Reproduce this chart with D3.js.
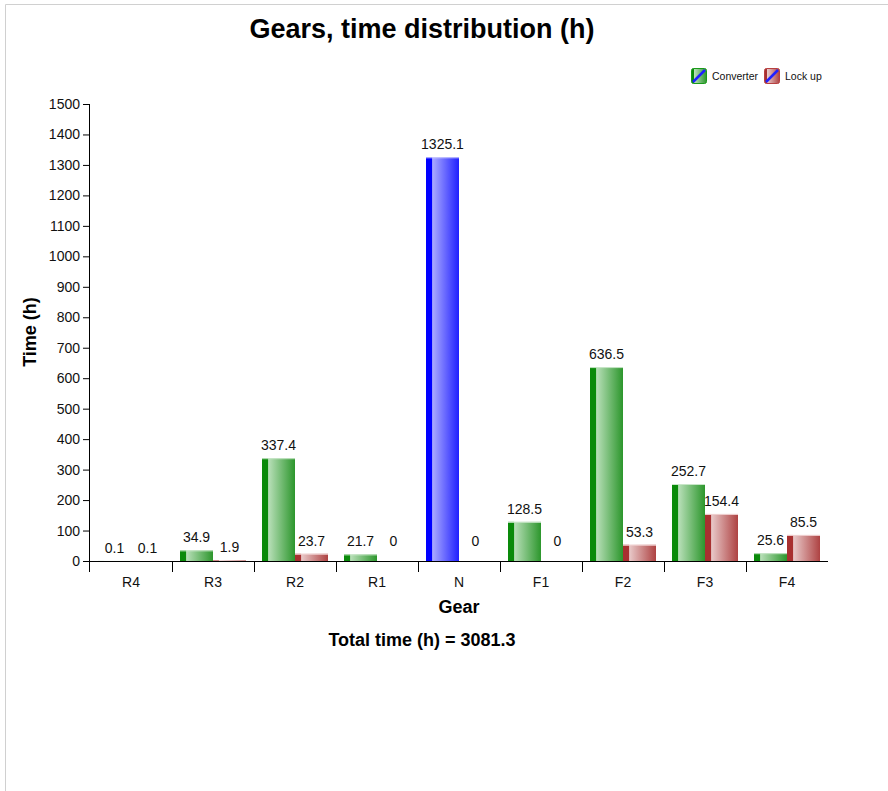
<!DOCTYPE html>
<html><head><meta charset="utf-8">
<script src="https://cdn.jsdelivr.net/npm/d3@7"></script>
<style>
html,body{margin:0;padding:0;background:#fff;}
svg{display:block;font-family:Arial,"Liberation Sans",Helvetica,sans-serif;}
</style></head>
<body>
<svg id="c" width="888" height="791"></svg>
<script>
const title = "Gears, time distribution (h)";
const gears = ["R4","R3","R2","R1","N","F1","F2","F3","F4"];
const seriesNames = ["Converter","Lock up"];
const converter = [0.1, 34.9, 337.4, 21.7, 1325.1, 128.5, 636.5, 252.7, 25.6];
const lockup    = [0.1, 1.9, 23.7, 0, 0, 0, 53.3, 154.4, 85.5];
const yTicks = [0,100,200,300,400,500,600,700,800,900,1000,1100,1200,1300,1400,1500];
const totalLabel = "Total time (h) = 3081.3";
const xTitle = "Gear", yTitle = "Time (h)";

const svg = d3.select("#c");
// page border (top + left)
svg.append("line").attr("x1",5.5).attr("x2",888).attr("y1",4.5).attr("y2",4.5).attr("stroke","#d0d0d0");
svg.append("line").attr("x1",5.5).attr("x2",5.5).attr("y1",4.5).attr("y2",791).attr("stroke","#d0d0d0");

const L=90, R=828, T=104, B=561;
const x = d3.scaleBand().domain(gears).range([L,R]);
const xs = d3.scaleBand().domain(seriesNames).range([0,x.bandwidth()]).paddingOuter(8/33).paddingInner(0);
const y = d3.scaleLinear().domain([0,1500]).range([B,T]);

const defs = svg.append("defs");
function grad(id, dark, light, mid){
  const g = defs.append("linearGradient").attr("id",id).attr("x1","0").attr("x2","1").attr("y1","0").attr("y2","0");
  g.append("stop").attr("offset","0").attr("stop-color",dark);
  g.append("stop").attr("offset","0.17").attr("stop-color",dark);
  g.append("stop").attr("offset","0.2").attr("stop-color",light);
  g.append("stop").attr("offset","1").attr("stop-color",mid);
}
grad("gG","#0a8a0a","#b8dfb8","#2c962c");
grad("gR","#a83030","#e8c8c8","#ae4242");
grad("gB","#0000ff","#aaaaff","#2020ff");

const data = [];
gears.forEach((g,i)=>{
  data.push({gear:g, s:"Converter", v:converter[i]});
  data.push({gear:g, s:"Lock up", v:lockup[i]});
});
function fillOf(d){ if(d.gear==="N" && d.s==="Converter") return "url(#gB)"; return d.s==="Converter"?"url(#gG)":"url(#gR)"; }
function edgeOf(d){ if(d.gear==="N" && d.s==="Converter") return "#c8c8ff"; return d.s==="Converter"?"#c8e6c8":"#f0d0d0"; }

const bars = svg.append("g");
bars.selectAll("rect").data(data.filter(d=>d.v>0)).join("rect")
  .attr("x",d=>x(d.gear)+xs(d.s))
  .attr("width",xs.bandwidth())
  .attr("y",d=>y(d.v))
  .attr("height",d=>Math.max(0.5,y(0)-y(d.v)))
  .attr("fill",fillOf);
bars.selectAll("line").data(data.filter(d=>d.v>5)).join("line")
  .attr("x1",d=>x(d.gear)+xs(d.s)).attr("x2",d=>x(d.gear)+xs(d.s)+xs.bandwidth())
  .attr("y1",d=>y(d.v)+0.5).attr("y2",d=>y(d.v)+0.5)
  .attr("stroke",edgeOf).attr("stroke-width",1);

svg.append("g").selectAll("text").data(data).join("text")
  .attr("x",d=>x(d.gear)+xs(d.s)+xs.bandwidth()/2)
  .attr("y",d=> d.v===0 ? y(0)-15 : y(d.v)-8)
  .attr("text-anchor","middle").attr("font-size",14).attr("fill","#111")
  .text(d=>d.v);

// axes
const yAx = svg.append("g").attr("transform",`translate(${L},0)`)
  .call(d3.axisLeft(y).tickValues(yTicks).tickFormat(d3.format("d")).tickSize(7).tickPadding(3));
yAx.select(".domain").attr("d",`M-0.5,${T}V${B+11}`).attr("stroke","#000");
yAx.selectAll("text").attr("font-size",14).attr("fill","#111").attr("font-family","Arial,Liberation Sans,sans-serif");

const xAx = svg.append("g").attr("transform",`translate(0,${B})`);
xAx.append("line").attr("x1",L).attr("x2",R).attr("y1",0.5).attr("y2",0.5).attr("stroke","#000");
xAx.selectAll("line.t").data(gears.slice(1)).join("line").attr("class","t")
  .attr("x1",d=>Math.round(x(d))+0.5).attr("x2",d=>Math.round(x(d))+0.5).attr("y1",0).attr("y2",11).attr("stroke","#000");
xAx.selectAll("text").data(gears).join("text")
  .attr("x",d=>x(d)+x.bandwidth()/2).attr("y",26)
  .attr("text-anchor","middle").attr("font-size",14).attr("fill","#111").text(d=>d);

// titles
svg.append("text").attr("x",422).attr("y",38).attr("text-anchor","middle")
  .attr("font-size",27).attr("font-weight","bold").text(title);
svg.append("text").attr("x",459).attr("y",613).attr("text-anchor","middle")
  .attr("font-size",18).attr("font-weight","bold").text(xTitle);
svg.append("text").attr("x",422).attr("y",646).attr("text-anchor","middle")
  .attr("font-size",18).attr("font-weight","bold").text(totalLabel);
svg.append("text").attr("transform","translate(36,332) rotate(-90)").attr("text-anchor","middle")
  .attr("font-size",18).attr("font-weight","bold").text(yTitle);

// legend
const leg = svg.append("g");
const legX = [691, 764];
seriesNames.forEach((s,i)=>{
  const g = leg.append("g").attr("transform",`translate(${legX[i]},68)`);
  g.append("rect").attr("x",0.5).attr("y",0.5).attr("width",15).attr("height",15).attr("rx",2)
    .attr("fill", i===0?"url(#gG)":"url(#gR)").attr("stroke", i===0?"#1a9a1a":"#b84040");
  g.append("line").attr("x1",2).attr("y1",14).attr("x2",14).attr("y2",2).attr("stroke","#2020ff").attr("stroke-width",2.5);
  g.append("text").attr("x",21).attr("y",11.5).attr("font-size",10.5).attr("fill","#111").text(s);
});
</script>
</body></html>
